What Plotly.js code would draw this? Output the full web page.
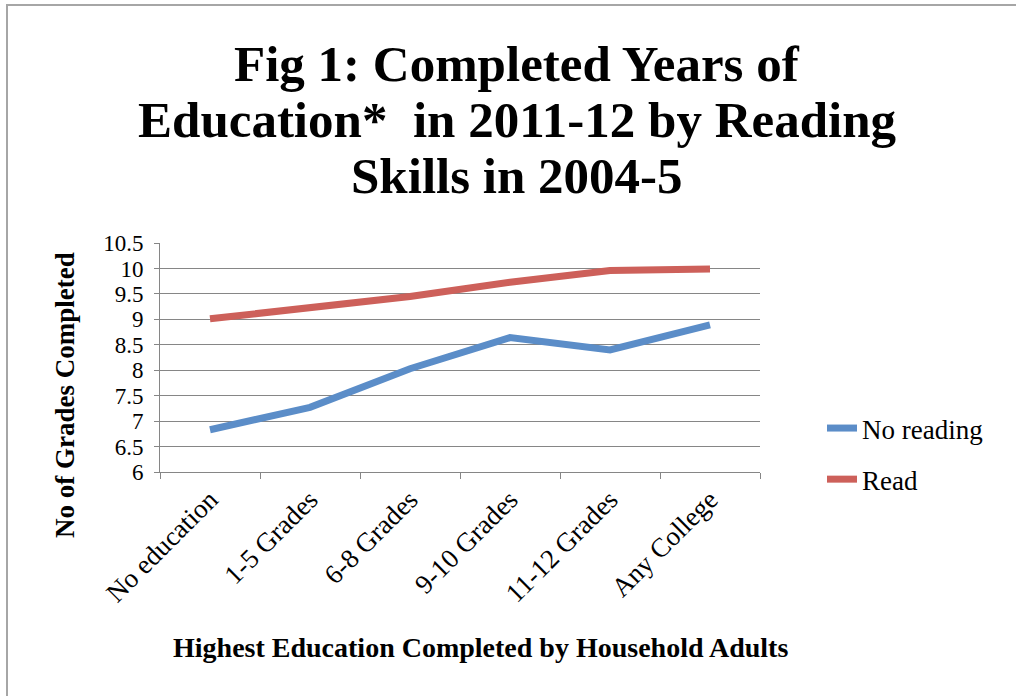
<!DOCTYPE html>
<html>
<head>
<meta charset="utf-8">
<script src="https://cdn.plot.ly/plotly-3.0.1.min.js"></script>
<style>
html,body{margin:0;padding:0;background:#fff;}
#wrap{position:relative;width:1016px;height:696px;overflow:hidden;}
#chart{position:absolute;left:0;top:0;width:1016px;height:696px;}
#frame{position:absolute;left:6px;top:4px;width:1100px;height:800px;border-left:2px solid #a6a6a6;border-top:2px solid #a6a6a6;pointer-events:none;}
</style>
</head>
<body>
<div id="wrap"><div id="chart"></div><div id="frame"></div></div>
<script>
const categories = ["No education", "1-5 Grades", "6-8 Grades", "9-10 Grades", "11-12 Grades", "Any College"];
const noReading = [6.83, 7.27, 8.03, 8.64, 8.40, 8.89];
const readVals = [9.01, 9.22, 9.45, 9.73, 9.96, 9.99];
const yTicks = [6, 6.5, 7, 7.5, 8, 8.5, 9, 9.5, 10, 10.5];
const yTickText = ["6", "6.5", "7", "7.5", "8", "8.5", "9", "9.5", "10", "10.5"];
const titleLines = ["Fig 1: Completed Years of", "Education*  in 2011-12 by Reading", "Skills in 2004-5"];
const xTitle = "Highest Education Completed by Household Adults";
const yTitle = "No of Grades Completed";

const serif = "Liberation Serif, DejaVu Serif, serif";

const traces = [
  {x: categories, y: noReading, name: "No reading", type: "scatter", mode: "lines",
   line: {color: "#5B8DC8", width: 7}, legendgroup: "a"},
  {x: categories, y: readVals, name: "Read", type: "scatter", mode: "lines",
   line: {color: "#CD605A", width: 7}, legendgroup: "b"}
];

// plot area spans y pixels 243..472 -> paper coords helper for annotations
const plotTop = 243, plotBot = 472, plotL = 160, plotR = 760;
const py = v => (plotBot - v) / (plotBot - plotTop);
const px = v => (v - plotL) / (plotR - plotL);

const titleY = [64, 120, 176];
const annotations = titleLines.map((t, i) => ({
  text: "<b>" + t.replace(/  /g, " &nbsp;") + "</b>",
  xref: "paper", yref: "paper", x: px(517), y: py(titleY[i]),
  xanchor: "center", yanchor: "middle", showarrow: false,
  font: {family: serif, size: 51, color: "#000"}
}));
annotations.push({
  text: "<b>" + xTitle + "</b>", xref: "paper", yref: "paper",
  x: px(480), y: py(647), xanchor: "center", yanchor: "middle", showarrow: false,
  font: {family: serif, size: 28, color: "#000"}
});
annotations.push({
  text: "<b>" + yTitle + "</b>", xref: "paper", yref: "paper", textangle: -90,
  x: px(65), y: py(395), xanchor: "center", yanchor: "middle", showarrow: false,
  font: {family: serif, size: 27, color: "#000"}
});

const layout = {
  width: 1016, height: 696,
  paper_bgcolor: "#ffffff", plot_bgcolor: "#ffffff",
  margin: {l: plotL, r: 1016 - plotR, t: plotTop, b: 696 - plotBot},
  xaxis: {
    type: "category",
    range: [-0.5, 5.5],
    tickangle: -45,
    tickfont: {family: serif, size: 27, color: "#000"},
    showgrid: false,
    showline: true, linecolor: "#868686", linewidth: 1,
    ticks: "outside", ticklen: 6, tickcolor: "#868686", tickson: "boundaries",
    fixedrange: true
  },
  yaxis: {
    range: [6, 10.5],
    tickvals: yTicks, ticktext: yTickText,
    tickfont: {family: serif, size: 23, color: "#000"},
    showgrid: true, gridcolor: "#868686", gridwidth: 1,
    showline: true, linecolor: "#868686", linewidth: 1,
    ticks: "outside", ticklen: 5, tickcolor: "#868686",
    ticklabelstandoff: 6,
    zeroline: false,
    fixedrange: true
  },
  annotations: annotations,
  showlegend: true,
  legend: {
    x: px(822), xanchor: "left", y: py(404), yanchor: "top",
    font: {family: serif, size: 27, color: "#000"},
    traceorder: "grouped", tracegroupgap: 13,
    bgcolor: "rgba(0,0,0,0)"
  }
};

Plotly.newPlot("chart", traces, layout, {staticPlot: true, displayModeBar: false});
</script>
</body>
</html>
